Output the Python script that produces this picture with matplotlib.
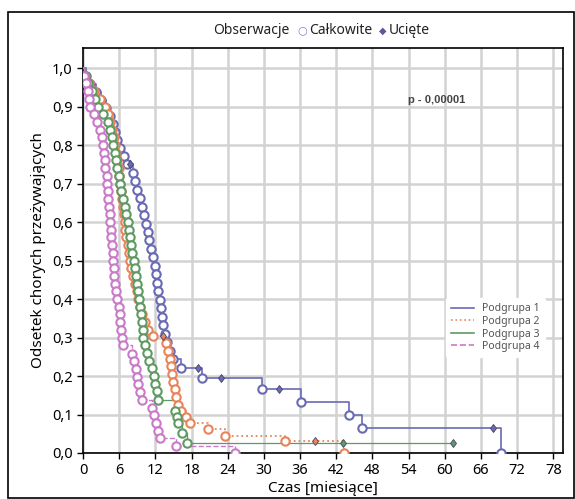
import matplotlib.pyplot as plt
from matplotlib.lines import Line2D
from matplotlib.patches import Rectangle

plt.rcParams['font.family'] = ['Noto Sans', 'DejaVu Sans']

# Podgrupa 1 - event times, survival after event, censored points
t1 = [0.5, 1.2, 2.2, 3.0, 3.8, 4.4, 4.9, 5.3, 5.7, 6.1, 6.8, 7.3, 8.3, 8.7, 9.0, 9.4,
      9.8, 10.1, 10.4, 10.7, 11.0, 11.3, 11.6, 11.9, 12.1, 12.3, 12.5, 12.7, 12.9,
      13.1, 13.3, 13.6, 14.0, 14.4, 14.9, 16.2, 19.7, 29.7, 36.1, 44.1, 46.2, 69.4]
s1 = [0.979, 0.958, 0.938, 0.917, 0.896, 0.875, 0.854, 0.833, 0.812, 0.792, 0.771,
      0.750, 0.728, 0.706, 0.684, 0.662, 0.640, 0.618, 0.596, 0.574, 0.552, 0.530,
      0.508, 0.486, 0.464, 0.442, 0.420, 0.398, 0.376, 0.354, 0.332, 0.310, 0.288,
      0.266, 0.244, 0.222, 0.195, 0.166, 0.133, 0.099, 0.066, 0.0]
c1_t = [7.8, 19.0, 22.9, 32.5, 68.0]
c1_s = [0.750, 0.222, 0.195, 0.166, 0.066]

# Podgrupa 2
t2 = [0.4, 1.0, 1.8, 2.8, 3.6, 4.2, 4.5, 4.8, 5.1, 5.3, 5.5, 5.7, 5.9, 6.0, 6.2, 6.3,
      6.5, 6.6, 6.8, 6.9, 7.0, 7.2, 7.4, 7.6, 7.8, 8.0, 8.3, 8.6, 8.9, 9.2, 9.5, 9.8,
      10.2, 10.8, 11.6, 13.8, 14.1, 14.4, 14.6, 14.8, 15.0, 15.2, 15.4, 15.7, 16.2,
      17.0, 17.8, 20.8, 23.5, 33.5, 43.3]
s2 = [0.98, 0.96, 0.94, 0.92, 0.90, 0.88, 0.86, 0.84, 0.82, 0.80, 0.78, 0.76, 0.74,
      0.72, 0.70, 0.68, 0.66, 0.64, 0.62, 0.60, 0.58, 0.56, 0.54, 0.52, 0.50, 0.48,
      0.46, 0.44, 0.42, 0.40, 0.38, 0.36, 0.34, 0.32, 0.305, 0.285, 0.265, 0.245,
      0.225, 0.205, 0.185, 0.165, 0.145, 0.125, 0.11, 0.094, 0.078, 0.062, 0.044,
      0.030, 0.0]
c2_t = [13.3, 38.4]
c2_s = [0.305, 0.030]

# Podgrupa 3
t3 = [0.3, 0.8, 1.5, 2.0, 2.5, 3.3, 4.1, 4.5, 4.8, 5.0, 5.3, 5.5, 5.7, 5.9, 6.1, 6.3,
      6.6, 6.9, 7.2, 7.4, 7.6, 7.8, 8.0, 8.2, 8.4, 8.6, 8.8, 9.0, 9.2, 9.3, 9.5, 9.6,
      9.8, 9.9, 10.0, 10.3, 10.6, 11.0, 11.4, 11.8, 12.0, 12.2, 12.5, 15.3, 15.6,
      15.8, 16.5, 17.2]
s3 = [0.98, 0.96, 0.94, 0.92, 0.90, 0.88, 0.86, 0.84, 0.82, 0.80, 0.78, 0.76, 0.74,
      0.72, 0.70, 0.68, 0.66, 0.64, 0.62, 0.60, 0.58, 0.56, 0.54, 0.52, 0.50, 0.48,
      0.46, 0.44, 0.42, 0.40, 0.38, 0.36, 0.34, 0.32, 0.30, 0.28, 0.26, 0.24, 0.22,
      0.20, 0.18, 0.16, 0.137, 0.11, 0.094, 0.078, 0.052, 0.026]
c3_t = [43.1, 61.3]
c3_s = [0.026, 0.026]

# Podgrupa 4
t4 = [0.2, 0.5, 0.8, 1.0, 1.2, 1.8, 2.4, 2.8, 3.1, 3.3, 3.5, 3.6, 3.7, 3.9, 4.0, 4.1,
      4.2, 4.3, 4.4, 4.5, 4.6, 4.7, 4.8, 4.9, 5.0, 5.1, 5.2, 5.3, 5.5, 5.7, 5.9, 6.1,
      6.2, 6.3, 6.4, 6.6, 8.1, 8.5, 8.8, 9.0, 9.2, 9.5, 9.8, 11.5, 11.8, 12.1, 12.4,
      12.8, 15.5, 25.2]
s4 = [0.98, 0.96, 0.94, 0.92, 0.90, 0.88, 0.86, 0.84, 0.82, 0.80, 0.78, 0.76, 0.74,
      0.72, 0.70, 0.68, 0.66, 0.64, 0.62, 0.60, 0.58, 0.56, 0.54, 0.52, 0.50, 0.48,
      0.46, 0.44, 0.42, 0.40, 0.38, 0.36, 0.34, 0.32, 0.30, 0.28, 0.258, 0.238, 0.218,
      0.198, 0.178, 0.158, 0.138, 0.118, 0.098, 0.078, 0.058, 0.039, 0.019, 0.0]

x_ticks = list(range(0, 79, 6))
y_ticks = [0.0, 0.1, 0.2, 0.3, 0.4, 0.5, 0.6, 0.7, 0.8, 0.9, 1.0]

groups = [
    ("Podgrupa 1", t1, s1, c1_t, c1_s, '#6a6ab4', '-', 1.2),
    ("Podgrupa 2", t2, s2, c2_t, c2_s, '#e8845a', ':', 1.3),
    ("Podgrupa 3", t3, s3, c3_t, c3_s, '#5f9a62', '-', 0.9),
    ("Podgrupa 4", t4, s4, [], [], '#c97ac9', '--', 1.0),
]

fig = plt.figure(figsize=(5.75, 4.99), dpi=100)
ax = fig.add_axes([83 / 575, 46 / 499, 480 / 575, 405 / 499])

# outer frame around the figure
fig.patches.append(Rectangle((8 / 575, 1 / 499), 566 / 575, 486 / 499,
                             transform=fig.transFigure, fill=False,
                             edgecolor='black', linewidth=1.2))

handles = []
for name, t, s, ct, cs, col, ls, lw in groups:
    xs = [0] + t
    ys = [1.0] + s
    # the curve runs on to the last censored patient
    if ct and max(ct) > t[-1]:
        xs = xs + [max(ct)]
        ys = ys + [s[-1]]
    ax.step(xs, ys, where='post', color=col, linestyle=ls, linewidth=lw, zorder=3)
    ax.plot(t, s, linestyle='none', marker='o', markersize=6, markerfacecolor='white',
            markeredgecolor=col, markeredgewidth=1.5, zorder=4)
    if ct:
        ax.plot(ct, cs, linestyle='none', marker='d', markersize=4.5, color=col,
                markeredgecolor='#444466', markeredgewidth=0.6, zorder=5)
    handles.append(Line2D([], [], color=col, linestyle=ls, linewidth=1.2, label=name))

ax.set_xlim(0, 79.6)
ax.set_ylim(0, 1.052)
ax.set_xticks(x_ticks)
ax.set_yticks(y_ticks)
ax.set_yticklabels([f"{v:.1f}".replace('.', ',') for v in y_ticks])
ax.tick_params(axis='both', labelsize=10.5, length=4, width=1, direction='out')
ax.grid(True, color='#d2d2d2', linewidth=1.8)
ax.set_axisbelow(True)
for sp in ax.spines.values():
    sp.set_linewidth(1.2)

ax.set_xlabel("Czas [miesiące]", fontsize=11, labelpad=2)
ax.set_ylabel("Odsetek chorych przeżywających", fontsize=11, labelpad=4)

ax.text(58.7, 0.917, "p - 0,00001", fontsize=8, fontweight='bold', color='#444444',
        family='Liberation Sans', ha='center', va='center')

leg = ax.legend(handles=handles, loc='upper left', bbox_to_anchor=(0.745, 0.395),
                fontsize=7.5, frameon=True, framealpha=1, edgecolor='white',
                handlelength=2.2, labelspacing=0.15, borderpad=0.5)
for txt in leg.get_texts():
    txt.set_color('#555555')

# top legend for marker types, placed piece by piece
renderer = fig.canvas.get_renderer()
pieces = [("Obserwacje", 10, '#222222', 8), ("○", 8, '#8080c0', 2), ("Całkowite", 10, '#222222', 7),
          ("◆", 7, '#5a5a9a', 2), ("Ucięte", 10, '#222222', 0)]
x_px = 213
for txt, size, col, gap in pieces:
    tt = fig.text(x_px / 575, 1 - 31 / 499, txt, fontsize=size, color=col, va='center', ha='left')
    bb = tt.get_window_extent(renderer)
    x_px += bb.width + gap

fig.savefig("out.png", dpi=100)
